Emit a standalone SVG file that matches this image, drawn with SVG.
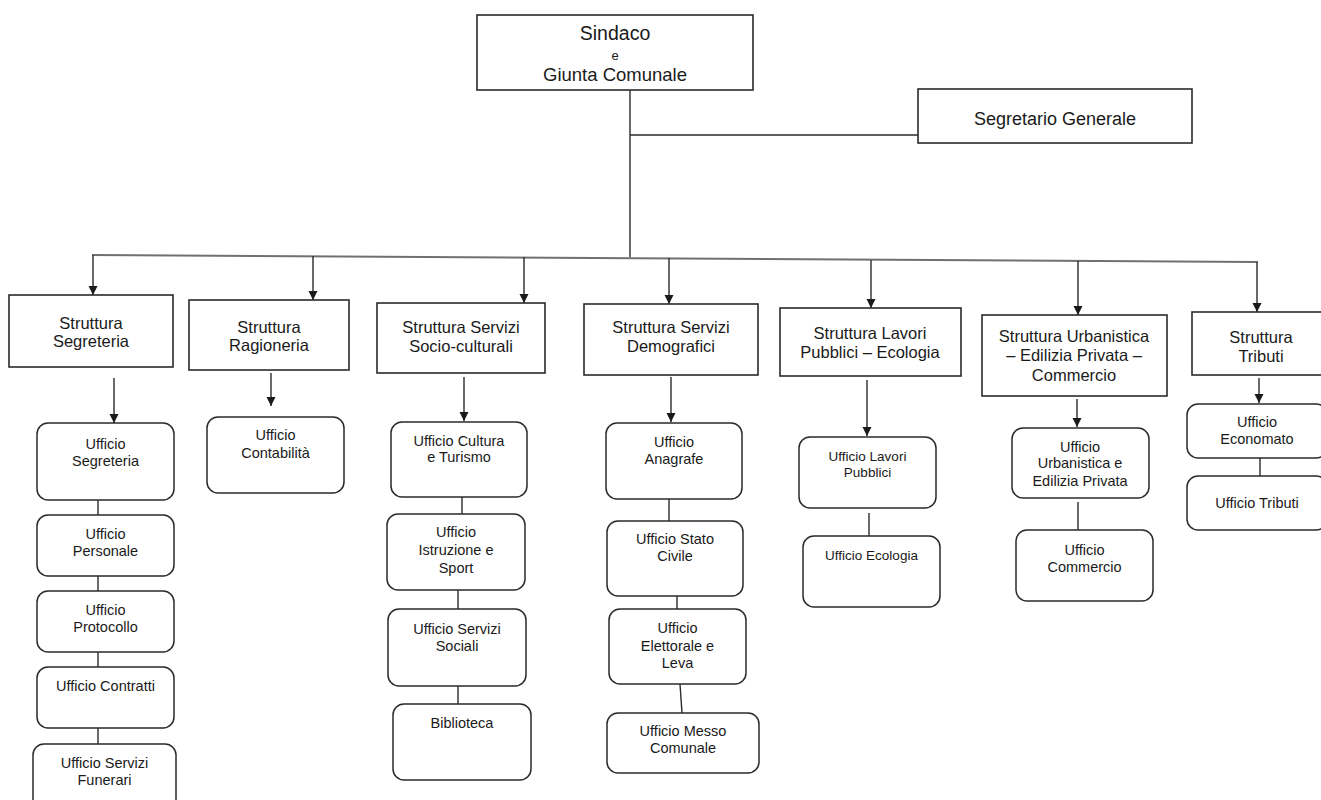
<svg xmlns="http://www.w3.org/2000/svg" width="1321" height="800" viewBox="0 0 1321 800">
<style>
  .bg{fill:#ffffff}
  .box{fill:#ffffff;stroke:#2a2a2a;stroke-width:1.6}
  .off{fill:#ffffff;stroke:#2a2a2a;stroke-width:1.5}
  .ln{stroke:#2a2a2a;stroke-width:1.4;fill:none}
  .bus{stroke:#707070;stroke-width:2;fill:none}
  text{font-family:"Liberation Sans",Arial,sans-serif;fill:#1a1a1a;text-anchor:middle}
  .t1{font-size:16.5px}
  .t2{font-size:14.5px}
  .t3{font-size:13.5px}
  .top{font-size:18.5px}
</style>
<defs>
  <marker id="ah" markerUnits="userSpaceOnUse" markerWidth="10" markerHeight="10" refX="9" refY="4.5" orient="auto">
    <path d="M0,0 L9,4.5 L0,9 z" fill="#1a1a1a"/>
  </marker>
</defs>
<rect class="bg" x="0" y="0" width="1321" height="800"/>

<g id="connectors">
  <line class="ln" x1="630" y1="90" x2="630" y2="257"/>
  <line class="ln" x1="630" y1="135" x2="918" y2="135"/>
  <line class="bus" x1="92" y1="255" x2="1258" y2="262"/>
  <line class="ln" x1="93" y1="255" x2="93" y2="295" marker-end="url(#ah)"/>
  <line class="ln" x1="313" y1="256" x2="313" y2="300" marker-end="url(#ah)"/>
  <line class="ln" x1="524" y1="257" x2="524" y2="303" marker-end="url(#ah)"/>
  <line class="ln" x1="669" y1="258" x2="669" y2="304" marker-end="url(#ah)"/>
  <line class="ln" x1="871" y1="260" x2="871" y2="308" marker-end="url(#ah)"/>
  <line class="ln" x1="1078" y1="261" x2="1078" y2="315" marker-end="url(#ah)"/>
  <line class="ln" x1="1257" y1="262" x2="1257" y2="312" marker-end="url(#ah)"/>
  <line class="ln" x1="114" y1="378" x2="114" y2="423" marker-end="url(#ah)"/>
  <line class="ln" x1="271" y1="373" x2="271" y2="406" marker-end="url(#ah)"/>
  <line class="ln" x1="464" y1="377" x2="464" y2="421" marker-end="url(#ah)"/>
  <line class="ln" x1="671" y1="377" x2="671" y2="422" marker-end="url(#ah)"/>
  <line class="ln" x1="867" y1="380" x2="867" y2="436" marker-end="url(#ah)"/>
  <line class="ln" x1="1077" y1="399" x2="1077" y2="427" marker-end="url(#ah)"/>
  <line class="ln" x1="1259" y1="378" x2="1259" y2="403" marker-end="url(#ah)"/>
  <line class="ln" x1="98" y1="500" x2="98" y2="515"/>
  <line class="ln" x1="98" y1="576" x2="98" y2="591"/>
  <line class="ln" x1="98" y1="652" x2="98" y2="667"/>
  <line class="ln" x1="98" y1="728" x2="98" y2="744"/>
  <line class="ln" x1="462" y1="497" x2="462" y2="514"/>
  <line class="ln" x1="458" y1="590" x2="458" y2="609"/>
  <line class="ln" x1="458" y1="686" x2="458" y2="704"/>
  <line class="ln" x1="669" y1="499" x2="669" y2="521"/>
  <line class="ln" x1="677" y1="596" x2="677" y2="609"/>
  <line class="ln" x1="680" y1="684" x2="682" y2="713"/>
  <line class="ln" x1="869" y1="513" x2="869" y2="536"/>
  <line class="ln" x1="1078" y1="502" x2="1078" y2="530"/>
  <line class="ln" x1="1260" y1="458" x2="1260" y2="476"/>
</g>

<g id="sindaco">
  <rect class="box" x="477" y="15" width="276" height="75"/>
  <text x="615" y="40" style="font-size:19.5px">Sindaco</text>
  <text x="615" y="60" style="font-size:13px">e</text>
  <text x="615" y="81" class="top">Giunta Comunale</text>
</g>
<g id="segretario">
  <rect class="box" x="918" y="89" width="274" height="54"/>
  <text x="1055" y="125" style="font-size:18px">Segretario Generale</text>
</g>

<g id="s-segreteria">
  <rect class="box" x="9" y="295" width="164" height="72"/>
  <text class="t1" x="91" y="329">Struttura</text>
  <text class="t1" x="91" y="347">Segreteria</text>
</g>
<g id="s-ragioneria">
  <rect class="box" x="189" y="300" width="160" height="70"/>
  <text class="t1" x="269" y="333">Struttura</text>
  <text class="t1" x="269" y="351">Ragioneria</text>
</g>
<g id="s-socio">
  <rect class="box" x="377" y="303" width="168" height="70"/>
  <text class="t1" x="461" y="333">Struttura Servizi</text>
  <text class="t1" x="461" y="352">Socio-culturali</text>
</g>
<g id="s-demografici">
  <rect class="box" x="584" y="304" width="174" height="71"/>
  <text class="t1" x="671" y="333">Struttura Servizi</text>
  <text class="t1" x="671" y="352">Demografici</text>
</g>
<g id="s-lavori">
  <rect class="box" x="780" y="308" width="181" height="68"/>
  <text class="t1" x="870" y="339">Struttura Lavori</text>
  <text class="t1" x="870" y="358">Pubblici – Ecologia</text>
</g>
<g id="s-urbanistica">
  <rect class="box" x="982" y="315" width="185" height="81"/>
  <text class="t1" x="1074" y="342">Struttura Urbanistica</text>
  <text class="t1" x="1074" y="361">– Edilizia Privata –</text>
  <text class="t1" x="1074" y="381">Commercio</text>
</g>
<g id="s-tributi">
  <rect class="box" x="1192" y="312" width="138" height="63"/>
  <text class="t1" x="1261" y="343">Struttura</text>
  <text class="t1" x="1261" y="362">Tributi</text>
</g>

<g id="u-segreteria">
  <rect class="off" x="37" y="423" width="137" height="77" rx="11"/>
  <text class="t2" x="105.5" y="449">Ufficio</text>
  <text class="t2" x="105.5" y="466">Segreteria</text>
</g>
<g id="u-personale">
  <rect class="off" x="37" y="515" width="137" height="61" rx="11"/>
  <text class="t2" x="105.5" y="539">Ufficio</text>
  <text class="t2" x="105.5" y="556">Personale</text>
</g>
<g id="u-protocollo">
  <rect class="off" x="37" y="591" width="137" height="61" rx="11"/>
  <text class="t2" x="105.5" y="615">Ufficio</text>
  <text class="t2" x="105.5" y="632">Protocollo</text>
</g>
<g id="u-contratti">
  <rect class="off" x="37" y="667" width="137" height="61" rx="11"/>
  <text class="t2" x="105.5" y="691">Ufficio Contratti</text>
</g>
<g id="u-funerari">
  <rect class="off" x="33" y="744" width="143" height="72" rx="11"/>
  <text class="t2" x="104.5" y="768">Ufficio Servizi</text>
  <text class="t2" x="104.5" y="785">Funerari</text>
</g>

<g id="u-contabilita">
  <rect class="off" x="207" y="417" width="137" height="76" rx="11"/>
  <text class="t2" x="275.5" y="440">Ufficio</text>
  <text class="t2" x="275.5" y="458">Contabilità</text>
</g>

<g id="u-cultura">
  <rect class="off" x="391" y="422" width="136" height="75" rx="11"/>
  <text class="t2" x="459" y="446">Ufficio Cultura</text>
  <text class="t2" x="459" y="462">e Turismo</text>
</g>
<g id="u-istruzione">
  <rect class="off" x="387" y="514" width="138" height="76" rx="11"/>
  <text class="t2" x="456" y="537">Ufficio</text>
  <text class="t2" x="456" y="555">Istruzione e</text>
  <text class="t2" x="456" y="573">Sport</text>
</g>
<g id="u-sociali">
  <rect class="off" x="388" y="609" width="138" height="77" rx="11"/>
  <text class="t2" x="457" y="634">Ufficio Servizi</text>
  <text class="t2" x="457" y="651">Sociali</text>
</g>
<g id="u-biblioteca">
  <rect class="off" x="393" y="704" width="138" height="76" rx="11"/>
  <text class="t2" x="462" y="728">Biblioteca</text>
</g>

<g id="u-anagrafe">
  <rect class="off" x="606" y="423" width="136" height="76" rx="11"/>
  <text class="t2" x="674" y="447">Ufficio</text>
  <text class="t2" x="674" y="464">Anagrafe</text>
</g>
<g id="u-statocivile">
  <rect class="off" x="607" y="521" width="136" height="75" rx="11"/>
  <text class="t2" x="675" y="544">Ufficio Stato</text>
  <text class="t2" x="675" y="561">Civile</text>
</g>
<g id="u-elettorale">
  <rect class="off" x="609" y="609" width="137" height="75" rx="11"/>
  <text class="t2" x="677.5" y="633">Ufficio</text>
  <text class="t2" x="677.5" y="651">Elettorale e</text>
  <text class="t2" x="677.5" y="668">Leva</text>
</g>
<g id="u-messo">
  <rect class="off" x="607" y="713" width="152" height="60" rx="11"/>
  <text class="t2" x="683" y="736">Ufficio Messo</text>
  <text class="t2" x="683" y="753">Comunale</text>
</g>

<g id="u-lavori">
  <rect class="off" x="799" y="437" width="137" height="71" rx="11"/>
  <text class="t3" x="867.5" y="461">Ufficio Lavori</text>
  <text class="t3" x="867.5" y="477">Pubblici</text>
</g>
<g id="u-ecologia">
  <rect class="off" x="803" y="536" width="137" height="71" rx="11"/>
  <text class="t3" x="871.5" y="560">Ufficio Ecologia</text>
</g>

<g id="u-urbanistica">
  <rect class="off" x="1012" y="428" width="137" height="70" rx="11"/>
  <text class="t2" x="1080" y="452">Ufficio</text>
  <text class="t2" x="1080" y="468">Urbanistica e</text>
  <text class="t2" x="1080" y="486">Edilizia Privata</text>
</g>
<g id="u-commercio">
  <rect class="off" x="1016" y="530" width="137" height="71" rx="11"/>
  <text class="t2" x="1084.5" y="555">Ufficio</text>
  <text class="t2" x="1084.5" y="572">Commercio</text>
</g>

<g id="u-economato">
  <rect class="off" x="1187" y="404" width="140" height="54" rx="11"/>
  <text class="t2" x="1257" y="427">Ufficio</text>
  <text class="t2" x="1257" y="444">Economato</text>
</g>
<g id="u-tributi">
  <rect class="off" x="1187" y="476" width="140" height="54" rx="11"/>
  <text class="t2" x="1257" y="508">Ufficio Tributi</text>
</g>
</svg>
